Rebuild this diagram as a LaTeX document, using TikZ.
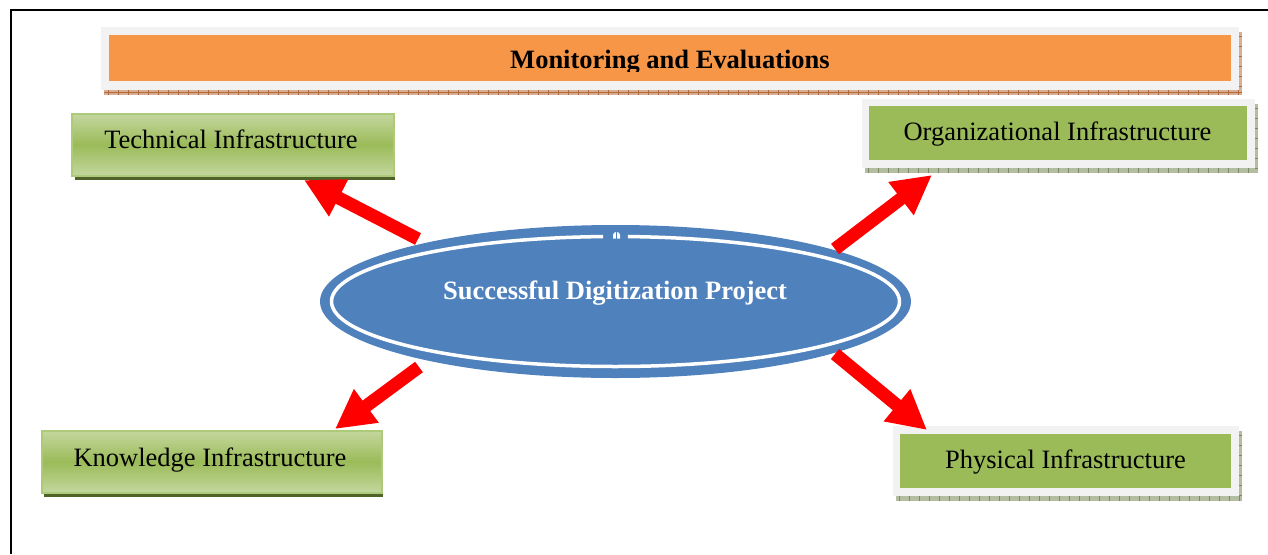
\documentclass[tikz,border=0pt]{standalone}
\usepackage{fontspec}
\setmainfont{Liberation Serif}
\usetikzlibrary{shapes.geometric,arrows.meta,calc}

\definecolor{orangefill}{HTML}{F79646}
\definecolor{greenmid}{HTML}{9BBB59}
\definecolor{greenlight}{HTML}{C4D79E}
\definecolor{greenedge}{HTML}{ADC97A}
\definecolor{greendark}{HTML}{4F6228}
\definecolor{panelgray}{HTML}{F2F2F2}
\definecolor{hubblue}{HTML}{4F81BD}
\definecolor{brownshade}{HTML}{D8AE94}
\definecolor{browntick}{HTML}{B06A3C}
\definecolor{oliveshade}{HTML}{B2BDA2}
\definecolor{olivetick}{HTML}{7C8A64}

\tikzset{
  lbl/.style={font=\fontsize{26.5}{30}\selectfont, text=black, inner sep=0pt, anchor=base},
  gradbox/.style={draw=greenedge, line width=1.6pt, top color=greenlight,
    bottom color=greenlight, middle color=greenmid, inner sep=0pt, anchor=north west},
  graypanel/.style={fill=panelgray, inner sep=0pt, anchor=north west},
  flatgreen/.style={fill=greenmid},
  redarrow/.style={draw=red, line width=13pt, line cap=butt,
    -{Triangle[length=39pt,width=39pt]}},
}

\begin{document}
\begin{tikzpicture}[x=1pt,y=-1pt]
\useasboundingbox (0,0) rectangle (1268,554);
\fill[white] (0,0) rectangle (1268,554);

% page frame
\draw[black, line width=2pt] (11,554) -- (11,10) -- (1268,10);

% ---------- top banner ----------
\fill[brownshade] (104,32) rectangle (1242,95);
\foreach \x in {108,118,...,1238} \draw[browntick, line width=0.6pt] (\x,90) -- (\x,95);
\foreach \y in {36,46,...,86} \draw[browntick, line width=0.6pt] (1239,\y) -- (1242,\y);
\draw[browntick, line width=0.4pt] (104,92.5) -- (1242,92.5);
\node[graypanel, minimum width=1138pt, minimum height=63pt] (banner) at (101,27) {};
\fill[orangefill] (109,35) rectangle (1231,81);
\begin{scope}
  \clip (109,35) rectangle (1231,71.5);
  \node[lbl, font=\fontsize{26.5}{30}\selectfont\bfseries] (bannertext) at (670,68) {Monitoring and Evaluations};
\end{scope}

% ---------- gradient boxes (left) ----------
\fill[greendark] (75,118) rectangle (395,180);
\node[gradbox, minimum width=322pt, minimum height=62pt] (tech) at (71,113) {};
\node[lbl] (techtext) at (231,148.5) {Technical Infrastructure};

\fill[greendark] (44,434) rectangle (383,497);
\node[gradbox, minimum width=340pt, minimum height=62pt] (know) at (41,430) {};
\node[lbl] (knowtext) at (210,466) {Knowledge Infrastructure};

% ---------- flat boxes (right) ----------
\fill[oliveshade] (865,104) rectangle (1258,173);
\foreach \x in {868,878,...,1255} \draw[olivetick, line width=0.6pt] (\x,168) -- (\x,173);
\foreach \y in {108,118,...,168} \draw[olivetick, line width=0.6pt] (1255,\y) -- (1258,\y);
\node[graypanel, minimum width=393pt, minimum height=69pt] (org) at (862,99) {};
\fill[flatgreen] (869,106) rectangle (1247,160);
\node[lbl] (orgtext) at (1057.5,140) {Organizational Infrastructure};

\fill[oliveshade] (896,431) rectangle (1242,501);
\foreach \x in {899,909,...,1239} \draw[olivetick, line width=0.6pt] (\x,496) -- (\x,501);
\foreach \y in {435,445,...,495} \draw[olivetick, line width=0.6pt] (1239,\y) -- (1242,\y);
\node[graypanel, minimum width=346pt, minimum height=70pt] (phys) at (893,426) {};
\fill[flatgreen] (900,434) rectangle (1231,488);
\node[lbl] (phystext) at (1065.5,468) {Physical Infrastructure};

% ---------- central ellipse ----------
\node[ellipse, fill=hubblue, minimum width=591pt, minimum height=153pt, inner sep=0pt] (hub) at (615.5,301.5) {};
\draw[white, line width=3.5pt] ($(hub.center)+(92.5:284pt and 65pt)$)
  arc[start angle=92.5, end angle=447.5, x radius=284pt, y radius=65pt];
\fill[white] (613,238.5) -- (613,235) .. controls (613,231) and (620,231) .. (620,235) -- (620,238.5) -- cycle;
\draw[hubblue, line width=0.9pt] (616.5,231) -- (616.5,239);
\node[lbl, text=white, font=\fontsize{26.5}{30}\selectfont\bfseries] (hubtext) at (615,299) {Successful Digitization Project};

% ---------- arrows ----------
\coordinate (fromT) at (418,239);
\coordinate (toT) at (304,180);
\coordinate (fromO) at (835,249);
\coordinate (toO) at (932,175);
\coordinate (fromK) at (419,367);
\coordinate (toK) at (335,429);
\coordinate (fromP) at (835,354);
\coordinate (toP) at (927,430);
\draw[redarrow] (fromT) -- (toT);
\draw[redarrow] (fromO) -- (toO);
\draw[redarrow] (fromK) -- (toK);
\draw[redarrow] (fromP) -- (toP);
\end{tikzpicture}
\end{document}
